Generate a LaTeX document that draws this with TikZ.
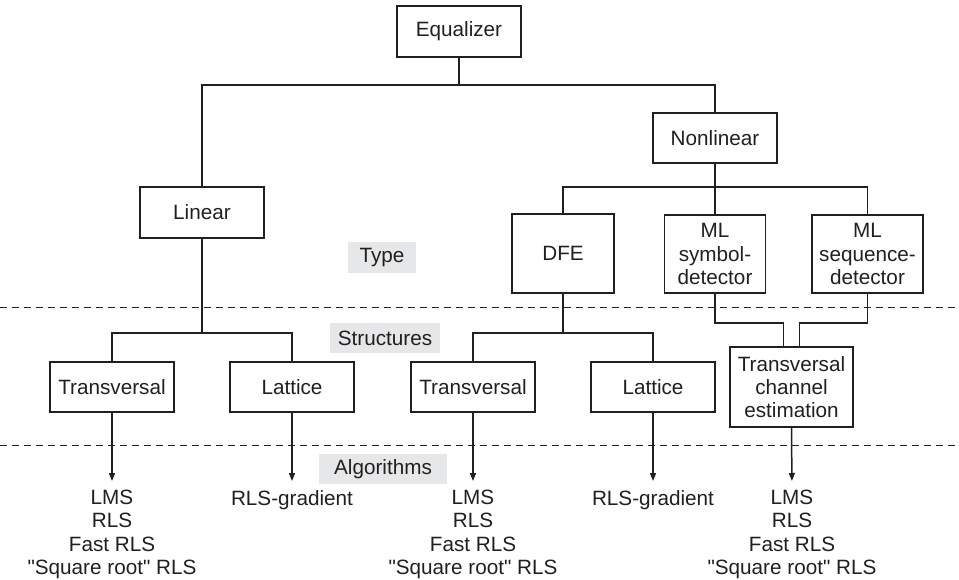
\documentclass[tikz,border=0pt]{standalone}
\usepackage{fontspec}
\setmainfont{Liberation Sans}[Ligatures=TeXOff]
\usetikzlibrary{arrows.meta}
\definecolor{ink}{HTML}{231F20}
\definecolor{labelgray}{HTML}{E6E7E8}
\newcommand{\qq}{\symbol{34}}
\begin{document}
\begin{tikzpicture}[x=1pt,y=-1pt,
  every node/.style={text=ink,font=\fontsize{20.7}{23.3}\selectfont},
  blk/.style={draw=ink,line width=1.5pt,fill=white,align=center,inner sep=2pt},
  tag/.style={fill=labelgray,inner sep=0pt,minimum height=30pt},
  algo/.style={align=center,anchor=north,inner sep=0pt},
  link/.style={draw=ink,line width=1.5pt},
  arr/.style={link,-{Triangle[length=8pt,width=6pt]},shorten >=9pt},
  sep/.style={draw=ink,line width=0.9pt,dash pattern=on 7pt off 5pt}]
\useasboundingbox (0,0) rectangle (959,580);
% separators
\coordinate (d1l) at (0,307); \coordinate (d1r) at (959,307);
\coordinate (d2l) at (0,445); \coordinate (d2r) at (959,445);
\draw[sep] (d1l) -- (d1r);
\draw[sep] (d2l) -- (d2r);
% boxes
\node[blk,minimum width=124pt,minimum height=51pt] (eq) at (459,31.5) {Equalizer};
\node[blk,minimum width=124pt,minimum height=51pt] (lin) at (202,212.5) {Linear};
\node[blk,minimum width=124pt,minimum height=50pt] (nonlin) at (715,138) {Nonlinear};
\node[blk,minimum width=102pt,minimum height=79pt] (dfe) at (563,253.5) {DFE};
\node[blk,minimum width=101pt,minimum height=78pt] (mlsym) at (715,254) {ML\\symbol-\\detector};
\node[blk,minimum width=111pt,minimum height=78pt] (mlseq) at (867.5,254) {ML\\sequence-\\detector};
\node[blk,minimum width=124pt,minimum height=50pt] (tr1) at (112,387) {Transversal};
\node[blk,minimum width=124pt,minimum height=50pt] (lat1) at (292,387) {Lattice};
\node[blk,minimum width=124pt,minimum height=50pt] (tr2) at (473,387) {Transversal};
\node[blk,minimum width=124pt,minimum height=50pt] (lat2) at (653,387) {Lattice};
\node[blk,minimum width=123pt,minimum height=80pt] (tce) at (791.5,387) {Transversal\\channel\\estimation};
% level labels
\node[tag,minimum width=68pt,minimum height=31pt] (type) at (382,257.5) {Type};
\node[tag,minimum width=110pt] (struct) at (385,338) {Structures};
\node[tag,minimum width=128pt] (algs) at (383,469) {Algorithms};
% algorithm lists
\node[algo] (a1) at (112,490) {LMS\\RLS\\Fast RLS\\\qq Square root\qq{} RLS};
\node[algo] (a2) at (292,490) {RLS-gradient};
\node[algo] (a3) at (473,490) {LMS\\RLS\\Fast RLS\\\qq Square root\qq{} RLS};
\node[algo] (a4) at (653,490) {RLS-gradient};
\node[algo] (a5) at (792,490) {LMS\\RLS\\Fast RLS\\\qq Square root\qq{} RLS};
% junctions
\coordinate (j1) at (459,85);
\coordinate (j2) at (715,187);
\coordinate (j3) at (202,333);
\coordinate (j4) at (563,333);
% tree connectors
\draw[link] (eq.south) -- (j1);
\draw[link] (lin.north) |- (j1) -| (nonlin.north);
\draw[link] (nonlin.south) -- (mlsym.north);
\draw[link] (dfe.north) |- (j2) -| (mlseq.north);
\draw[link] (lin.south) -- (j3);
\draw[link] (tr1.north) |- (j3) -| (lat1.north);
\draw[link] (dfe.south) -- (j4);
\draw[link] (tr2.north) |- (j4) -| (lat2.north);
\draw[link] (mlsym.south) -- ++(0,29) -| ([xshift=-8pt]tce.north);
\draw[link] (mlseq.south) -- ++(0,29) -| ([xshift=8pt]tce.north);
% arrows
\draw[arr] (tr1.south) -- (a1.north);
\draw[arr] (lat1.south) -- (a2.north);
\draw[arr] (tr2.south) -- (a3.north);
\draw[arr] (lat2.south) -- (a4.north);
\draw[arr] (tce.south) -- (a5.north);
\end{tikzpicture}
\end{document}
